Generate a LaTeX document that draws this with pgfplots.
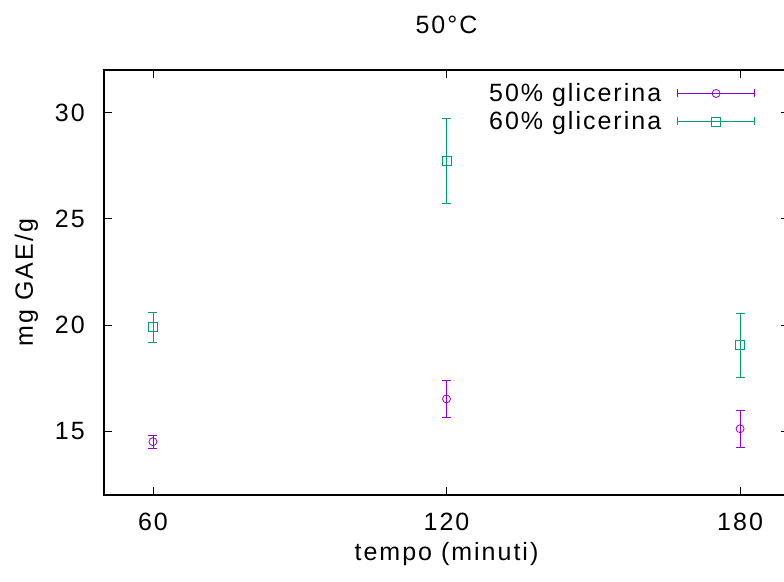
\documentclass[border=0pt]{standalone}
\usepackage{fontspec}
\setmainfont{Liberation Sans}[LetterSpace=8]
\usepackage{pgfplots}
\pgfplotsset{compat=1.18}
\definecolor{c1}{HTML}{9400D3}
\definecolor{c2}{HTML}{009E73}
\pgfplotstableread{
x y e
60 14.51 0.31
120 16.52 0.89
180 15.12 0.88
}\tabA
\pgfplotstableread{
x y e
60 19.9 0.7
120 27.71 2.0
180 19.05 1.5
}\tabB
\begin{document}
\begin{tikzpicture}
\path[use as bounding box] (0,0) rectangle (784pt,581pt);
\clip (0,0) rectangle (784pt,581pt);
\begin{axis}[
 at={(104pt,86pt)}, anchor=south west,
 scale only axis, width=685pt, height=425pt,
 xmin=50, xmax=190, ymin=12, ymax=32,
 xtick={60,120,180}, ytick={15,20,25,30},
 font=\fontsize{25}{30}\selectfont,
 /pgf/number format/assume math mode=true,
 axis line style={line width=1.2pt, black},
 tick style={line width=0.8pt, black},
 major tick length=8pt,
 tick align=inside,
 xticklabel style={anchor=north, inner sep=0pt, yshift=-18pt},
 yticklabel style={anchor=east, inner sep=0pt, xshift=-19pt},
 title={50°C},
 title style={at={(axis description cs:0.5,1.0706)}, anchor=base, inner sep=0pt},
 xlabel={tempo (minuti)},
 xlabel style={at={(axis description cs:0.5,-0.155)}, anchor=base, inner sep=0pt},
 ylabel={mg GAE/g},
 ylabel style={at={(axis description cs:-0.10365,0.5)}, anchor=base, inner sep=0pt},
 legend style={draw=none, fill=none, at={(axis description cs:0.9504,0.9671)}, anchor=north east,
   inner sep=0pt, outer sep=0pt, row sep=4pt, column sep=16pt,
   nodes={inner sep=0pt, text height=18pt, text depth=6pt}},
 legend cell align=right, legend plot pos=right,
 legend image code/.code={
   \draw[#1, sharp plot, mark=none] (0pt,2.5pt) -- (77pt,2.5pt);
   \draw[#1, sharp plot, mark=none] (0pt,-1.5pt) -- (0pt,6.5pt) (77pt,-1.5pt) -- (77pt,6.5pt);
   \draw[#1, only marks] plot coordinates {(38.5pt,2.5pt)};
 },
]
\addplot[c1, line width=0.8pt, only marks, mark=o, mark size=4pt,
  error bars/.cd, y dir=both, y explicit, error bar style={line width=0.8pt},
  error mark options={c1, rotate=90, mark size=4.5pt, line width=0.8pt}]
  table[x=x, y=y, y error=e] {\tabA};
\addlegendentry{50\% glicerina}
\addplot[c2, line width=0.8pt, only marks, mark=square, mark size=4.5pt,
  error bars/.cd, y dir=both, y explicit, error bar style={line width=0.8pt},
  error mark options={c2, rotate=90, mark size=4.5pt, line width=0.8pt}]
  table[x=x, y=y, y error=e] {\tabB};
\addlegendentry{60\% glicerina}
\end{axis}
\end{tikzpicture}
\end{document}
